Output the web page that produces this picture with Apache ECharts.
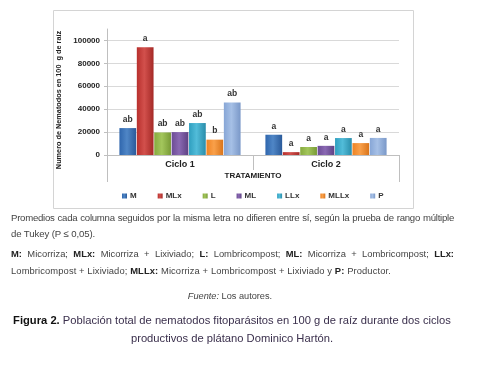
<!DOCTYPE html>
<html><head><meta charset="utf-8">
<script src="https://cdn.jsdelivr.net/npm/echarts@6/dist/echarts.min.js"></script>
<style>
html,body{margin:0;padding:0;background:#fff;}
#wrap{position:relative;width:488px;height:377px;overflow:hidden;font-family:"Liberation Sans",Arial,sans-serif;}
#chart{position:absolute;left:0;top:0;width:488px;height:377px;}
.t{position:absolute;color:#444;white-space:nowrap;}
</style></head>
<body><div id="wrap"><div id="chart"></div>
<div class="t" style="left:11px;top:212px;font-size:9.6px;letter-spacing:-0.25px;width:443px;text-align:justify;text-align-last:justify;">Promedios cada columna seguidos por la misma letra no difieren entre sí, según la prueba de rango múltiple</div>
<div class="t" style="left:11px;top:228px;font-size:9.6px;letter-spacing:-0.1px;">de Tukey (P ≤ 0,05).</div>
<div class="t" style="left:11px;top:248px;font-size:9.4px;width:443px;text-align:justify;text-align-last:justify;"><b style="color:#222">M:</b> Micorriza; <b style="color:#222">MLx:</b> Micorriza + Lixiviado; <b style="color:#222">L:</b> Lombricompost; <b style="color:#222">ML:</b> Micorriza + Lombricompost; <b style="color:#222">LLx:</b></div>
<div class="t" style="left:11px;top:265px;font-size:9.4px;letter-spacing:0.1px;">Lombricompost + Lixiviado; <b style="color:#222">MLLx:</b> Micorriza + Lombricompost + Lixiviado y <b style="color:#222">P:</b> Productor.</div>
<div class="t" style="left:130px;width:200px;text-align:center;top:291px;font-size:9.2px;"><i>Fuente:</i> Los autores.</div>
<div class="t" style="left:0px;width:464px;top:311px;font-size:11.2px;text-align:center;line-height:18px;color:#3a2f4c;"><b style="color:#111">Figura 2.</b> Población total de nematodos fitoparásitos en 100 g de raíz durante dos ciclos<br>productivos de plátano Dominico Hartón.</div>
</div>
<script>
const categories = ['Ciclo 1', 'Ciclo 2'];
const seriesNames = ['M', 'MLx', 'L', 'ML', 'LLx', 'MLLx', 'P'];
const M    = [23500, 17700];
const MLx  = [94000, 2500];
const L    = [19700, 7000];
const ML   = [20000, 8000];
const LLx  = [27900, 14800];
const MLLx = [13400, 10400];
const P    = [45800, 14900];
const lettersM    = ['ab', 'a'];
const lettersMLx  = ['a', 'a'];
const lettersL    = ['ab', 'a'];
const lettersML   = ['ab', 'a'];
const lettersLLx  = ['ab', 'a'];
const lettersMLLx = ['b', 'a'];
const lettersP    = ['ab', 'a'];
const yTicks = [0, 20000, 40000, 60000, 80000, 100000];

const values = [M, MLx, L, ML, LLx, MLLx, P];
const letters = [lettersM, lettersMLx, lettersL, lettersML, lettersLLx, lettersMLLx, lettersP];
const colors = [
  ['#2f66ad', '#4f86c6', '#2a5a9a'],
  ['#b8302d', '#d2504c', '#a52a27'],
  ['#86aa3e', '#a3c65c', '#789a36'],
  ['#6c4c95', '#8a69b3', '#5e4183'],
  ['#2f9fbf', '#52bcd9', '#2a8daa'],
  ['#ef8322', '#f9a04a', '#d9741a'],
  ['#87a6d6', '#a6c0e6', '#7a98c8']
];

const chart = echarts.init(document.getElementById('chart'), null, {renderer: 'canvas'});
const series = seriesNames.map((n, i) => ({
  name: n,
  type: 'bar',
  barGap: '4%',
  barCategoryGap: '17%',
  data: values[i],
  itemStyle: {
    color: new echarts.graphic.LinearGradient(0, 0, 1, 0, [
      {offset: 0, color: colors[i][0]},
      {offset: 0.45, color: colors[i][1]},
      {offset: 1, color: colors[i][2]}
    ])
  },
  label: {
    show: true, position: 'top', distance: 4,
    formatter: p => letters[i][p.dataIndex],
    fontFamily: 'Liberation Sans', fontWeight: 'bold', fontSize: 8.5, color: '#333'
  }
}));

const gridL = 107, gridR = 399, axisY = 155;
chart.setOption({
  animation: false,
  color: colors.map(c => c[0]),
  graphic: [{
    type: 'rect', left: 53, top: 10, z: -10,
    shape: {width: 360, height: 198},
    style: {fill: '#fff', stroke: '#d4d4d4', lineWidth: 1}
  }, {
    type: 'line', z: 5,
    shape: {x1: gridL + 0.5, y1: axisY, x2: gridL + 0.5, y2: axisY + 27},
    style: {stroke: '#bfbfbf', lineWidth: 1}
  }, {
    type: 'line', z: 5,
    shape: {x1: gridR + 0.5, y1: axisY, x2: gridR + 0.5, y2: axisY + 27},
    style: {stroke: '#bfbfbf', lineWidth: 1}
  }],
  grid: {left: gridL, right: 488 - gridR, top: 29, bottom: 377 - axisY},
  legend: {
    data: seriesNames, left: 117, top: 187, icon: 'rect',
    itemWidth: 5, itemHeight: 5, itemGap: 21,
    textStyle: {fontFamily: 'Liberation Sans', fontWeight: 'bold', fontSize: 8, color: '#333', padding: [0, 0, 0, -2]}
  },
  xAxis: {
    type: 'category', data: categories,
    name: 'TRATAMIENTO', nameLocation: 'middle', nameGap: 17,
    nameTextStyle: {fontFamily: 'Liberation Sans', fontWeight: 'bold', fontSize: 8, color: '#222'},
    axisLine: {show: true, lineStyle: {color: '#bfbfbf'}},
    axisTick: {show: true, alignWithLabel: false, length: 15, lineStyle: {color: '#bfbfbf'}},
    axisLabel: {margin: 5, fontFamily: 'Liberation Sans', fontWeight: 'bold', fontSize: 9, color: '#222'}
  },
  yAxis: {
    type: 'value', min: 0, max: 110000, interval: 20000,
    name: 'Numero de Nematodos en 100  g de raíz', nameLocation: 'middle', nameGap: 40,
    nameTextStyle: {fontFamily: 'Liberation Sans', fontWeight: 'bold', fontSize: 7.3, color: '#222', padding: [0, 16, 0, 0]},
    axisLine: {show: true, lineStyle: {color: '#bfbfbf'}},
    axisTick: {show: true, length: 3, lineStyle: {color: '#bfbfbf'}},
    axisLabel: {
      showMaxLabel: false, margin: 7,
      formatter: v => yTicks.indexOf(v) >= 0 ? String(v) : '',
      fontFamily: 'Liberation Sans', fontWeight: 'bold', fontSize: 8, color: '#222'
    },
    splitLine: {show: true, showMaxLine: false, showMinLine: false, lineStyle: {color: '#d9d9d9'}}
  },
  series: series
});
</script></body></html>
